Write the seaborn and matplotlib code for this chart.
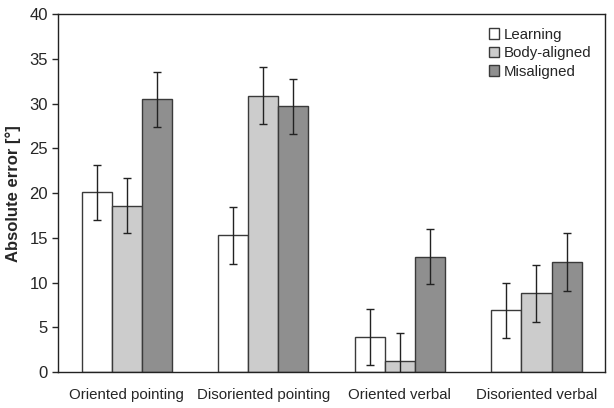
import numpy as np
import pandas as pd
import matplotlib
matplotlib.use("Agg")
import matplotlib.pyplot as plt
import seaborn as sns

conditions = ["Oriented pointing", "Disoriented pointing", "Oriented verbal", "Disoriented verbal"]
phases = ["Learning", "Body-aligned", "Misaligned"]
learning = [20.1, 15.3, 3.9, 6.9]
body_aligned = [18.6, 30.9, 1.2, 8.8]
misaligned = [30.5, 29.7, 12.9, 12.3]
err_learning = [3.1, 3.2, 3.1, 3.1]
err_body = [3.1, 3.2, 3.2, 3.2]
err_mis = [3.1, 3.1, 3.1, 3.2]

df = pd.DataFrame({
    "condition": conditions * 3,
    "phase": np.repeat(phases, 4),
    "error": learning + body_aligned + misaligned,
    "sem": err_learning + err_body + err_mis,
})

sns.set_style("white")
plt.rcParams["font.family"] = ["Liberation Sans", "DejaVu Sans"]

colors = ["#ffffff", "#cccccc", "#8f8f8f"]
fig, ax = plt.subplots(figsize=(6.14, 4.08), dpi=100)
sns.barplot(data=df, x="condition", y="error", hue="phase", order=conditions,
            hue_order=phases, palette=colors, width=0.66, errorbar=None,
            edgecolor="#3a3a3a", linewidth=1.0, ax=ax, saturation=1)

# error bars placed at bar centres
for container, ph in zip(ax.containers, phases):
    sub = df[df["phase"] == ph].set_index("condition").loc[conditions]
    xs = [p.get_x() + p.get_width() / 2 for p in container.patches]
    ax.errorbar(xs, sub["error"], yerr=sub["sem"], fmt="none", ecolor="#222222",
                elinewidth=1.0, capsize=3, capthick=1.0)

ax.set_ylim(0, 40)
ax.set_yticks(range(0, 41, 5))
ax.set_xlim(-0.5, 3.5)
ax.set_xlabel("")
ax.set_ylabel("Absolute error [°]", fontsize=12, fontweight="bold", labelpad=6)
ax.tick_params(axis="y", labelsize=12, left=True, length=4, width=1, direction="out")
ax.tick_params(axis="x", labelsize=10.8, bottom=False, pad=8)
for s in ax.spines.values():
    s.set_color("#222222")
    s.set_linewidth(1.0)

ax.legend(loc="upper right", frameon=False, fontsize=10.8, handlelength=0.7,
          handleheight=0.7, handletextpad=0.3, labelspacing=0.3,
          bbox_to_anchor=(1.0, 1.0))

fig.subplots_adjust(left=0.095, right=0.985, bottom=0.088, top=0.965)
fig.savefig("out.png", dpi=100)
